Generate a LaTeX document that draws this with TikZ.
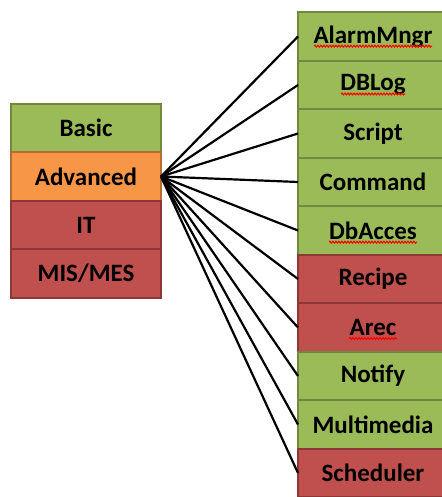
\documentclass[tikz,border=0pt]{standalone}
\usepackage{fontspec}
\setsansfont{Carlito}
\usetikzlibrary{positioning,decorations.pathmorphing}

\definecolor{okgreen}{RGB}{155,187,89}
\definecolor{okgreenline}{RGB}{113,137,63}
\definecolor{advorange}{RGB}{247,150,70}
\definecolor{advorangeline}{RGB}{182,109,49}
\definecolor{nored}{RGB}{192,80,77}
\definecolor{noredline}{RGB}{140,56,54}

\newcommand\boxfont{\sffamily\bfseries\fontsize{25}{30}\selectfont}

\begin{document}
\begin{tikzpicture}[x=1pt,y=1pt]
\tikzstyle{level}=[rectangle,draw,line width=2pt,minimum width=150pt,minimum height=48.5pt,
  inner sep=0pt,outer sep=0pt,text=black,font=\boxfont]
\tikzstyle{greenbox}=[level,fill=okgreen,draw=okgreenline]
\tikzstyle{orangebox}=[level,fill=advorange,draw=advorangeline]
\tikzstyle{redbox}=[level,fill=nored,draw=noredline]
\tikzstyle{link}=[line width=2.2pt,black]
\tikzstyle{squig}=[red,line width=1.1pt,decorate,decoration={snake,amplitude=0.9pt,segment length=3pt}]

\useasboundingbox (0,0) rectangle (441,497);

% left column
\node[greenbox] (basic) at (86,369) {Basic};
\node[orangebox] (adv) [below=0pt of basic] {Advanced};
\node[redbox] (it) [below=0pt of adv] {IT};
\node[redbox] (mis) [below=0pt of it] {MIS/MES};

% right column
\node[greenbox] (alarm) at (373,460.5) {AlarmMngr};
\node[greenbox] (dblog) [below=0pt of alarm] {DBLog};
\node[greenbox] (script) [below=0pt of dblog] {Script};
\node[greenbox] (command) [below=0pt of script] {Command};
\node[greenbox] (dbacces) [below=0pt of command] {DbAcces};
\node[redbox] (recipe) [below=0pt of dbacces] {Recipe};
\node[redbox] (arec) [below=0pt of recipe] {Arec};
\node[greenbox] (notify) [below=0pt of arec] {Notify};
\node[greenbox] (multimedia) [below=0pt of notify] {Multimedia};
\node[redbox] (scheduler) [below=0pt of multimedia] {Scheduler};

% spell-check marks
\foreach \n/\w in {alarm/118,dblog/64,dbacces/88,arec/48}
  \draw[squig] ([xshift=-\w/2,yshift=-3pt]\n.base) -- ++(\w,0);

\foreach \n in {alarm,dblog,script,command,dbacces,recipe,arec,notify,multimedia,scheduler}
  \draw[link] (adv.east) -- (\n.west);

\end{tikzpicture}
\end{document}
